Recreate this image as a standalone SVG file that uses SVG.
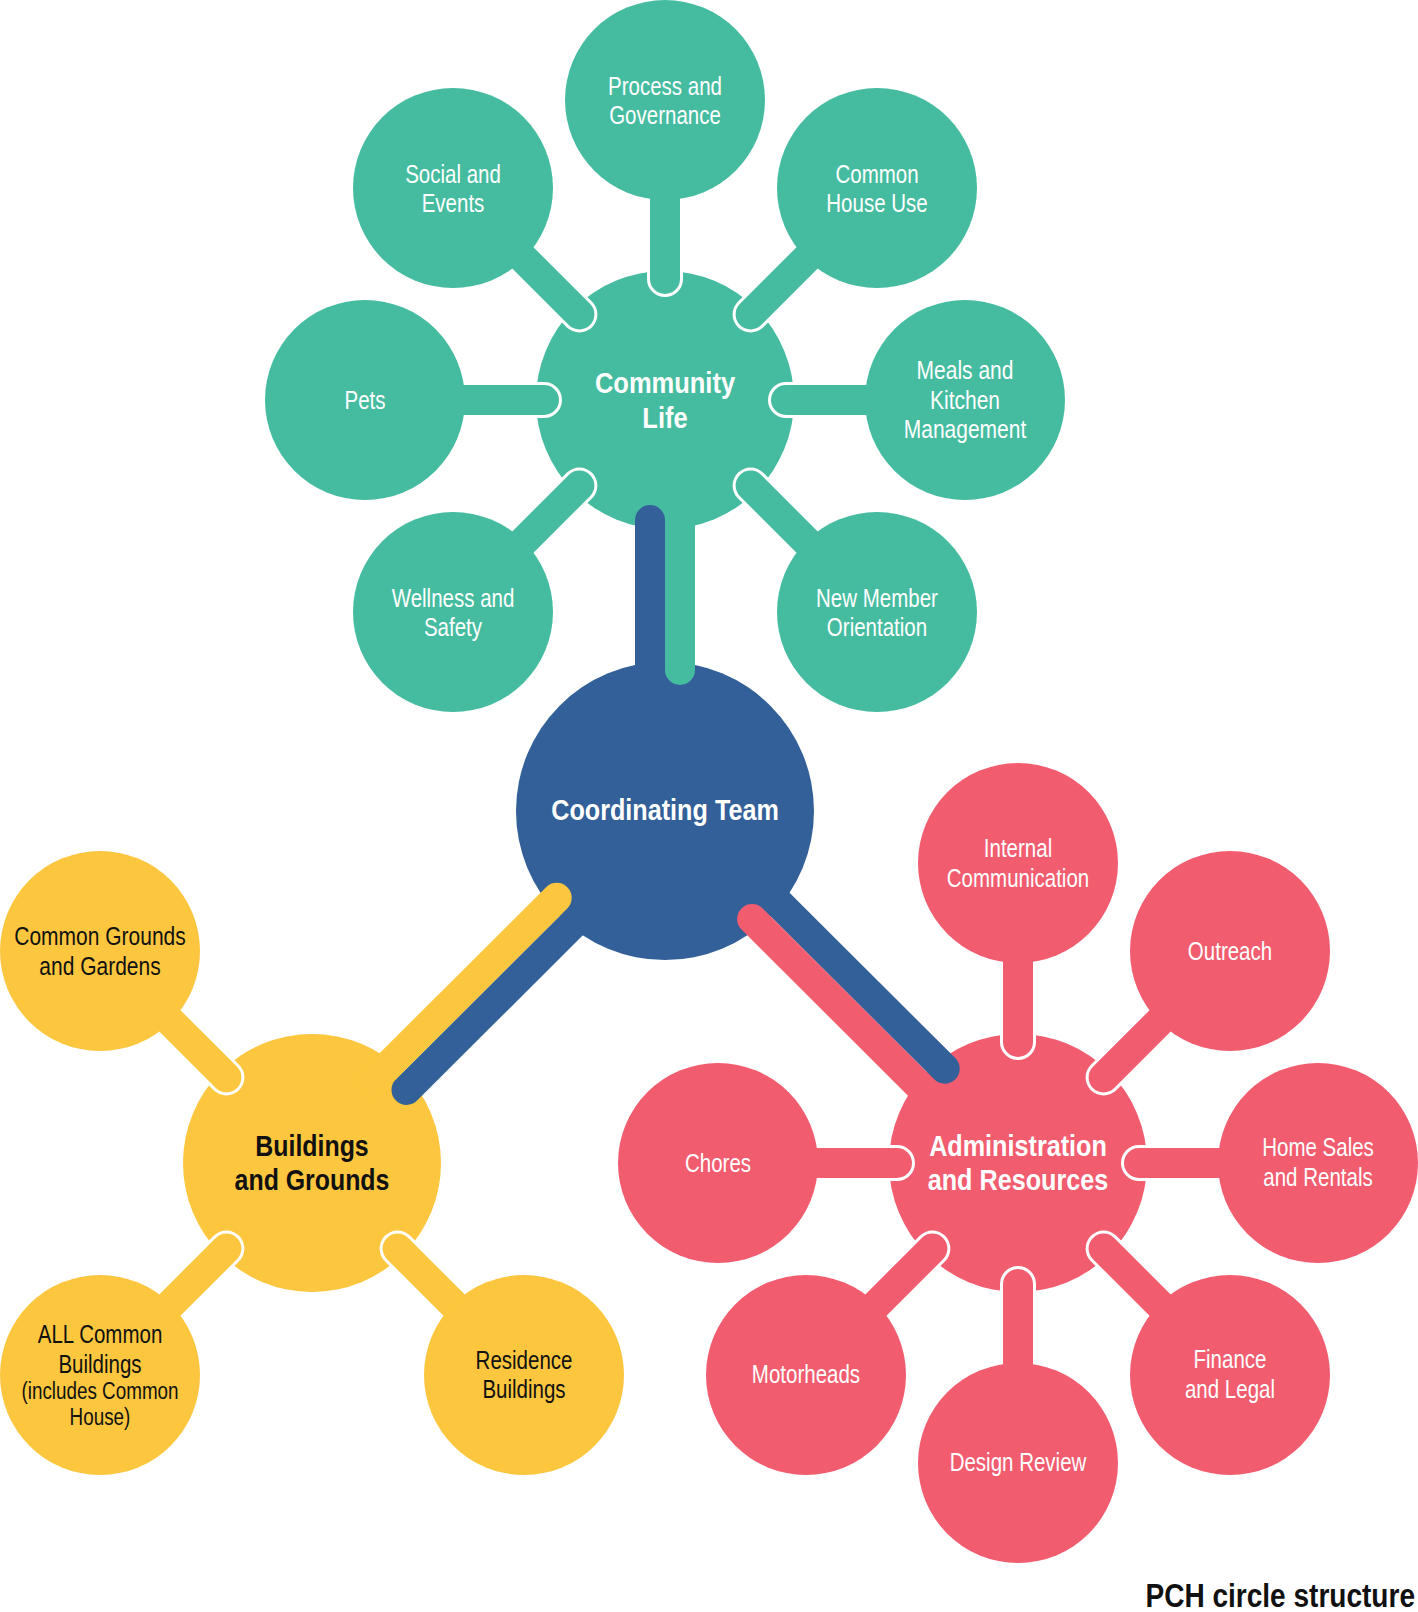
<svg xmlns="http://www.w3.org/2000/svg" width="1418" height="1612" viewBox="0 0 1418 1612">
<style>
  .teal{fill:#45BC9F}
  .blue{fill:#336098}
  .yellow{fill:#FCC73E}
  .pink{fill:#F15C6F}
  line{stroke-linecap:round;fill:none}
  .halo{stroke:#FFFFFF;stroke-width:36}
  .st{stroke-width:30}
  .sTeal{stroke:#45BC9F}
  .sBlue{stroke:#336098}
  .sYellow{stroke:#FCC73E}
  .sPink{stroke:#F15C6F}
  text{font-family:"Liberation Sans",Arial,sans-serif;text-anchor:middle}
  .lbl{font-size:25px}
  .sm{font-size:23px}
  .main{font-size:30px;font-weight:bold}
  .w{fill:#FFFFFF}
  .k{fill:#111111}
</style>
<rect width="1418" height="1612" fill="#FFFFFF"/>

<!-- main nodes -->
<g id="coordinating-team">
  <circle class="blue" cx="665" cy="811" r="149"/>
  <g transform="translate(665 0) scale(0.84 1)">
    <text class="main w" x="0" y="820">Coordinating Team</text>
  </g>
</g>
<g id="community-life">
  <circle class="teal" cx="665" cy="400" r="129"/>
  <g transform="translate(665 0) scale(0.85 1)">
    <text class="main w" x="0" y="393">Community</text>
    <text class="main w" x="0" y="428">Life</text>
  </g>
</g>
<g id="buildings-and-grounds">
  <circle class="yellow" cx="312" cy="1163" r="129"/>
  <g transform="translate(312 0) scale(0.83 1)">
    <text class="main k" x="0" y="1156">Buildings</text>
    <text class="main k" x="0" y="1190">and Grounds</text>
  </g>
</g>
<g id="administration-and-resources">
  <circle class="pink" cx="1018" cy="1163" r="129"/>
  <g transform="translate(1018 0) scale(0.84 1)">
    <text class="main w" x="0" y="1156">Administration</text>
    <text class="main w" x="0" y="1190">and Resources</text>
  </g>
</g>

<!-- connectors -->
<g id="connectors">
  <!-- coordinating team to main circles -->
  <line class="st sBlue" x1="650" y1="700" x2="650" y2="520"/>
  <line class="st sTeal" x1="680" y1="480" x2="680" y2="670"/>
  <line class="st sBlue" x1="604.8" y1="892.2" x2="406.5" y2="1089.9"/>
  <line class="st sYellow" x1="556.7" y1="897.8" x2="372.6" y2="1081.4"/>
  <line class="st sBlue" x1="746.4" y1="871" x2="944.7" y2="1068.7"/>
  <line class="st sPink" x1="752.1" y1="919" x2="936.2" y2="1102.6"/>

  <!-- community life stems -->
  <g>
    <line class="halo" x1="665" y1="100" x2="665" y2="279"/>
    <line class="st sTeal" x1="665" y1="100" x2="665" y2="279"/>
    <line class="halo" x1="453" y1="188" x2="579.4" y2="314.4"/>
    <line class="st sTeal" x1="453" y1="188" x2="579.4" y2="314.4"/>
    <line class="halo" x1="877" y1="188" x2="750.6" y2="314.4"/>
    <line class="st sTeal" x1="877" y1="188" x2="750.6" y2="314.4"/>
    <line class="halo" x1="365" y1="400" x2="544" y2="400"/>
    <line class="st sTeal" x1="365" y1="400" x2="544" y2="400"/>
    <line class="halo" x1="965" y1="400" x2="786" y2="400"/>
    <line class="st sTeal" x1="965" y1="400" x2="786" y2="400"/>
    <line class="halo" x1="453" y1="612" x2="579.4" y2="485.6"/>
    <line class="st sTeal" x1="453" y1="612" x2="579.4" y2="485.6"/>
    <line class="halo" x1="877" y1="612" x2="750.6" y2="485.6"/>
    <line class="st sTeal" x1="877" y1="612" x2="750.6" y2="485.6"/>
  </g>
  <!-- buildings and grounds stems -->
  <g>
    <line class="halo" x1="100" y1="951" x2="226.4" y2="1077.4"/>
    <line class="st sYellow" x1="100" y1="951" x2="226.4" y2="1077.4"/>
    <line class="halo" x1="100" y1="1375" x2="226.4" y2="1248.6"/>
    <line class="st sYellow" x1="100" y1="1375" x2="226.4" y2="1248.6"/>
    <line class="halo" x1="524" y1="1375" x2="397.6" y2="1248.6"/>
    <line class="st sYellow" x1="524" y1="1375" x2="397.6" y2="1248.6"/>
  </g>
  <!-- administration stems -->
  <g>
    <line class="halo" x1="1018" y1="863" x2="1018" y2="1042"/>
    <line class="st sPink" x1="1018" y1="863" x2="1018" y2="1042"/>
    <line class="halo" x1="1230" y1="951" x2="1103.6" y2="1077.4"/>
    <line class="st sPink" x1="1230" y1="951" x2="1103.6" y2="1077.4"/>
    <line class="halo" x1="1318" y1="1163" x2="1139" y2="1163"/>
    <line class="st sPink" x1="1318" y1="1163" x2="1139" y2="1163"/>
    <line class="halo" x1="1230" y1="1375" x2="1103.6" y2="1248.6"/>
    <line class="st sPink" x1="1230" y1="1375" x2="1103.6" y2="1248.6"/>
    <line class="halo" x1="1018" y1="1463" x2="1018" y2="1284"/>
    <line class="st sPink" x1="1018" y1="1463" x2="1018" y2="1284"/>
    <line class="halo" x1="806" y1="1375" x2="932.4" y2="1248.6"/>
    <line class="st sPink" x1="806" y1="1375" x2="932.4" y2="1248.6"/>
    <line class="halo" x1="718" y1="1163" x2="897" y2="1163"/>
    <line class="st sPink" x1="718" y1="1163" x2="897" y2="1163"/>
  </g>
</g>

<!-- community life children -->
<g id="process-and-governance">
  <circle class="teal" cx="665" cy="100" r="100"/>
  <g transform="translate(665 0) scale(0.82 1)">
    <text class="lbl w" x="0" y="95">Process and</text>
    <text class="lbl w" x="0" y="124">Governance</text>
  </g>
</g>
<g id="social-and-events">
  <circle class="teal" cx="453" cy="188" r="100"/>
  <g transform="translate(453 0) scale(0.82 1)">
    <text class="lbl w" x="0" y="183">Social and</text>
    <text class="lbl w" x="0" y="212">Events</text>
  </g>
</g>
<g id="common-house-use">
  <circle class="teal" cx="877" cy="188" r="100"/>
  <g transform="translate(877 0) scale(0.82 1)">
    <text class="lbl w" x="0" y="183">Common</text>
    <text class="lbl w" x="0" y="212">House Use</text>
  </g>
</g>
<g id="pets">
  <circle class="teal" cx="365" cy="400" r="100"/>
  <g transform="translate(365 0) scale(0.82 1)">
    <text class="lbl w" x="0" y="409">Pets</text>
  </g>
</g>
<g id="meals-and-kitchen-management">
  <circle class="teal" cx="965" cy="400" r="100"/>
  <g transform="translate(965 0) scale(0.84 1)">
    <text class="lbl w" x="0" y="379">Meals and</text>
    <text class="lbl w" x="0" y="409">Kitchen</text>
    <text class="lbl w" x="0" y="438">Management</text>
  </g>
</g>
<g id="wellness-and-safety">
  <circle class="teal" cx="453" cy="612" r="100"/>
  <g transform="translate(453 0) scale(0.82 1)">
    <text class="lbl w" x="0" y="607">Wellness and</text>
    <text class="lbl w" x="0" y="636">Safety</text>
  </g>
</g>
<g id="new-member-orientation">
  <circle class="teal" cx="877" cy="612" r="100"/>
  <g transform="translate(877 0) scale(0.82 1)">
    <text class="lbl w" x="0" y="607">New Member</text>
    <text class="lbl w" x="0" y="636">Orientation</text>
  </g>
</g>

<!-- buildings and grounds children -->
<g id="common-grounds-and-gardens">
  <circle class="yellow" cx="100" cy="951" r="100"/>
  <g transform="translate(100 0) scale(0.84 1)">
    <text class="lbl k" x="0" y="945">Common Grounds</text>
    <text class="lbl k" x="0" y="975">and Gardens</text>
  </g>
</g>
<g id="all-common-buildings">
  <circle class="yellow" cx="100" cy="1375" r="100"/>
  <g transform="translate(100 0) scale(0.82 1)">
    <text class="lbl k" x="0" y="1343">ALL Common</text>
    <text class="lbl k" x="0" y="1373">Buildings</text>
    <text class="sm k" x="0" y="1399">(includes Common</text>
    <text class="sm k" x="0" y="1425">House)</text>
  </g>
</g>
<g id="residence-buildings">
  <circle class="yellow" cx="524" cy="1375" r="100"/>
  <g transform="translate(524 0) scale(0.82 1)">
    <text class="lbl k" x="0" y="1369">Residence</text>
    <text class="lbl k" x="0" y="1398">Buildings</text>
  </g>
</g>

<!-- administration children -->
<g id="internal-communication">
  <circle class="pink" cx="1018" cy="863" r="100"/>
  <g transform="translate(1018 0) scale(0.82 1)">
    <text class="lbl w" x="0" y="857">Internal</text>
    <text class="lbl w" x="0" y="887">Communication</text>
  </g>
</g>
<g id="outreach">
  <circle class="pink" cx="1230" cy="951" r="100"/>
  <g transform="translate(1230 0) scale(0.82 1)">
    <text class="lbl w" x="0" y="960">Outreach</text>
  </g>
</g>
<g id="home-sales-and-rentals">
  <circle class="pink" cx="1318" cy="1163" r="100"/>
  <g transform="translate(1318 0) scale(0.82 1)">
    <text class="lbl w" x="0" y="1156">Home Sales</text>
    <text class="lbl w" x="0" y="1186">and Rentals</text>
  </g>
</g>
<g id="finance-and-legal">
  <circle class="pink" cx="1230" cy="1375" r="100"/>
  <g transform="translate(1230 0) scale(0.82 1)">
    <text class="lbl w" x="0" y="1368">Finance</text>
    <text class="lbl w" x="0" y="1398">and Legal</text>
  </g>
</g>
<g id="design-review">
  <circle class="pink" cx="1018" cy="1463" r="100"/>
  <g transform="translate(1018 0) scale(0.82 1)">
    <text class="lbl w" x="0" y="1471">Design Review</text>
  </g>
</g>
<g id="motorheads">
  <circle class="pink" cx="806" cy="1375" r="100"/>
  <g transform="translate(806 0) scale(0.82 1)">
    <text class="lbl w" x="0" y="1383">Motorheads</text>
  </g>
</g>
<g id="chores">
  <circle class="pink" cx="718" cy="1163" r="100"/>
  <g transform="translate(718 0) scale(0.82 1)">
    <text class="lbl w" x="0" y="1172">Chores</text>
  </g>
</g>

<g id="caption" transform="translate(1415 0) scale(0.85 1)">
  <text x="0" y="1607" style="font-size:33px;font-weight:bold;text-anchor:end;fill:#111111">PCH circle structure</text>
</g>
</svg>
